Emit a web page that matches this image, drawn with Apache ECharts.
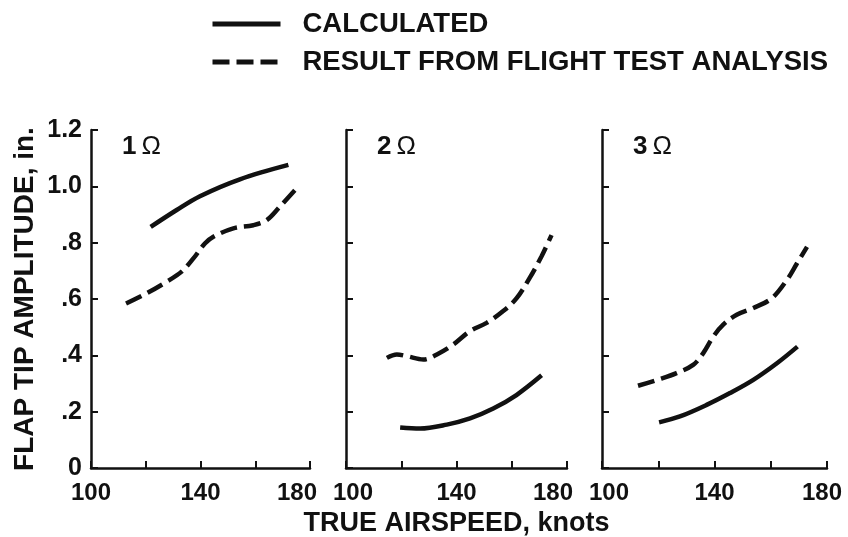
<!DOCTYPE html>
<html>
<head>
<meta charset="utf-8">
<script src="https://cdn.jsdelivr.net/npm/echarts@6/dist/echarts.min.js"></script>
<style>
  html, body { margin: 0; padding: 0; background: #fff; }
  #chart { width: 848px; height: 537px; }
</style>
</head>
<body>
<div id="chart"></div>
<script>
// Flap tip amplitude vs true airspeed, at 1, 2 and 3 per-rev harmonics.
const panelLabels = ['1', '2', '3'];
const seriesNames = ['CALCULATED', 'RESULT FROM FLIGHT TEST ANALYSIS'];
const speedTicks = [100, 140, 180];
const amplitudeTicks = ['0', '.2', '.4', '.6', '.8', '1.0', '1.2'];

// [airspeed (knots), amplitude (in.)]
const calculated1 = [[121.8, 0.856], [131.3, 0.916], [139.8, 0.965], [154.4, 1.025], [172.1, 1.076]];
const flightTest1 = [[112.8, 0.584], [120.3, 0.620], [127.6, 0.661], [133.1, 0.697], [137.4, 0.744],
  [141.6, 0.797], [144.7, 0.821], [152.0, 0.851], [159.3, 0.862], [164.2, 0.880], [169.0, 0.928], [175.1, 0.993]];

const calculated2 = [[119.6, 0.144], [126.8, 0.140], [136.5, 0.154], [144.9, 0.176], [153.3, 0.211],
  [161.7, 0.259], [170.8, 0.329]];
const flightTest2 = [[114.8, 0.391], [118.4, 0.403], [122.0, 0.397], [128.0, 0.385], [132.9, 0.403],
  [138.8, 0.438], [144.9, 0.486], [150.9, 0.515], [156.9, 0.557], [161.7, 0.602], [166.5, 0.675],
  [170.8, 0.752], [174.4, 0.827]];

const calculated3 = [[120.3, 0.162], [127.7, 0.183], [137.2, 0.224], [145.5, 0.266], [153.8, 0.313],
  [162.2, 0.372], [169.5, 0.431]];
const flightTest3 = [[112.8, 0.292], [120.6, 0.316], [126.5, 0.337], [132.4, 0.366], [136.0, 0.408],
  [139.6, 0.467], [143.1, 0.509], [147.9, 0.544], [153.8, 0.568], [160.4, 0.603], [165.7, 0.667],
  [169.3, 0.726], [172.9, 0.785]];

const panels = [
  { calc: calculated1, test: flightTest1 },
  { calc: calculated2, test: flightTest2 },
  { calc: calculated3, test: flightTest3 }
];

const FONT = '"Liberation Sans", Arial, Helvetica, sans-serif';
const INK = '#111';

// plot boxes, plus how far the end labels are nudged inward (left pad, right pad)
const gridBoxes = [
  { left: 91, width: 219, padMin: 0, padMax: 26 },
  { left: 346, width: 221, padMin: 14, padMax: 28 },
  { left: 602, width: 225, padMin: 14, padMax: 10 }
];

const axisLineStyle = { color: INK, width: 2.5 };
const tickStyle = { color: INK, width: 2 };

const grids = gridBoxes.map(b => ({
  left: b.left, width: b.width, top: 130, height: 338,
  containLabel: false, outerBoundsMode: 'none'
}));

const tickFont = { color: INK, fontFamily: FONT, fontWeight: 'bold', fontSize: 24 };

const xAxes = gridBoxes.map((b, i) => ({
  type: 'value', gridIndex: i, min: 100, max: 180, interval: 20,
  axisLine: { show: true, lineStyle: axisLineStyle },
  axisTick: { show: true, inside: true, length: 7, lineStyle: tickStyle },
  splitLine: { show: false },
  axisLabel: Object.assign({
    margin: 13,
    formatter: v => {
      const k = Math.round(v);
      if (speedTicks.indexOf(k) < 0) return '';
      if (k === speedTicks[0]) return '{lo|' + k + '}';
      if (k === speedTicks[speedTicks.length - 1]) return '{hi|' + k + '}';
      return '{mid|' + k + '}';
    },
    rich: {
      lo: Object.assign({ padding: [0, 0, 0, b.padMin] }, tickFont),
      mid: Object.assign({}, tickFont),
      hi: Object.assign({ padding: [0, b.padMax, 0, 0] }, tickFont)
    }
  }, tickFont),
  name: i === 1 ? 'TRUE AIRSPEED, knots' : '',
  nameLocation: 'middle', nameGap: 42,
  nameTextStyle: { color: INK, fontFamily: FONT, fontWeight: 'bold', fontSize: 27, verticalAlign: 'top' }
}));

const yAxes = gridBoxes.map((b, i) => ({
  type: 'value', gridIndex: i, min: 0, max: 1.2, interval: 0.2,
  axisLine: { show: true, lineStyle: axisLineStyle },
  axisTick: { show: true, inside: true, length: 7, lineStyle: tickStyle },
  splitLine: { show: false },
  axisLabel: Object.assign({
    show: i === 0, margin: 9, fontSize: 25,
    formatter: v => amplitudeTicks[Math.round(v * 5)]
  }, { color: INK, fontFamily: FONT, fontWeight: 'bold' }),
  name: i === 0 ? 'FLAP TIP AMPLITUDE, in.' : '',
  nameLocation: 'middle', nameGap: 52, nameRotate: 90,
  nameTextStyle: { color: INK, fontFamily: FONT, fontWeight: 'bold', fontSize: 28 }
}));

const series = [];
panels.forEach((p, i) => {
  series.push({
    name: seriesNames[0], type: 'line', xAxisIndex: i, yAxisIndex: i,
    data: p.calc, smooth: 0.35, symbol: 'none', silent: true,
    lineStyle: { color: INK, width: 4.5, type: 'solid' }
  });
  series.push({
    name: seriesNames[1], type: 'line', xAxisIndex: i, yAxisIndex: i,
    data: p.test, smooth: 0.35, symbol: 'none', silent: true,
    lineStyle: { color: INK, width: 4.5, type: [17, 7] }
  });
});

const panelTitles = panelLabels.map((n, i) => ({
  text: '{d|' + n + '} {o|\u03A9}',
  left: gridBoxes[i].left + 31, top: 134, padding: 0,
  textStyle: {
    rich: {
      d: { fontFamily: FONT, fontWeight: 'bold', fontSize: 26, color: INK },
      o: { fontFamily: FONT, fontWeight: 'normal', fontSize: 26, color: INK }
    }
  }
}));

const chart = echarts.init(document.getElementById('chart'), null, { renderer: 'canvas' });
chart.setOption({
  animation: false,
  backgroundColor: '#fff',
  title: panelTitles,
  legend: {
    orient: 'vertical', left: 210, top: 10, padding: 0,
    itemWidth: 68, itemHeight: 14, itemGap: 10,
    itemStyle: { opacity: 0 },
    lineStyle: { width: 5 },
    textStyle: { color: INK, fontFamily: FONT, fontWeight: 'bold', fontSize: 27.5, padding: [0, 0, 0, 17] },
    data: seriesNames,
    selectedMode: false
  },
  grid: grids,
  xAxis: xAxes,
  yAxis: yAxes,
  series: series
});
</script>
</body>
</html>
